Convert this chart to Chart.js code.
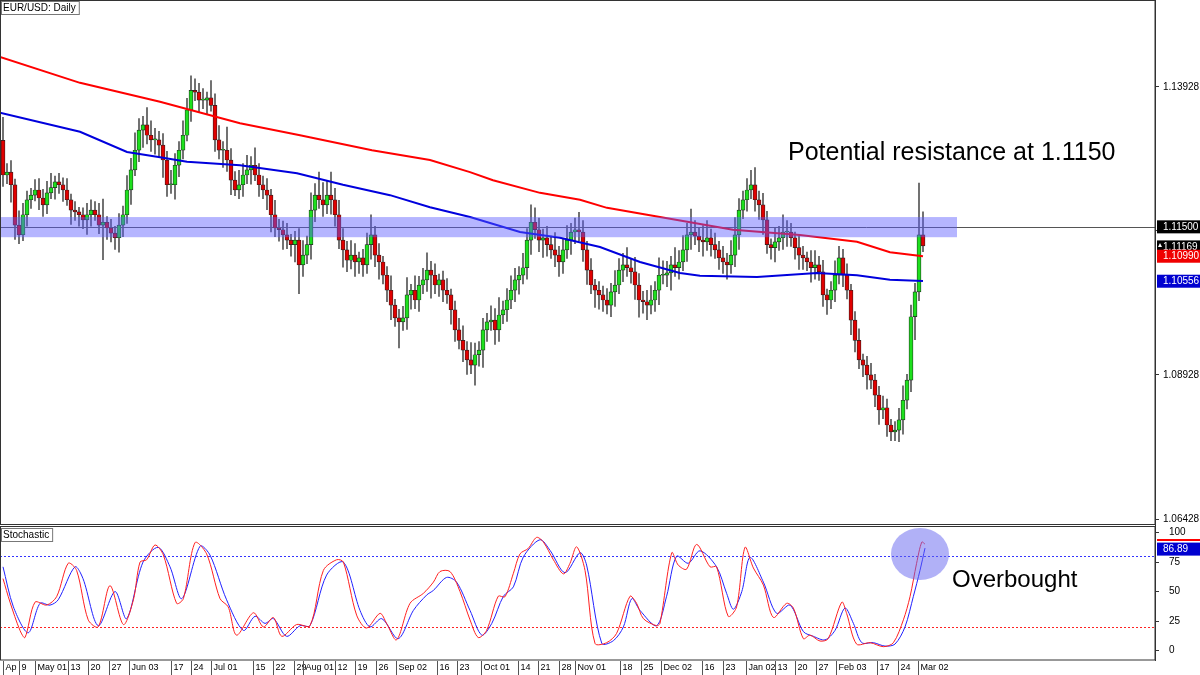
<!DOCTYPE html>
<html><head><meta charset="utf-8">
<script src="https://cdn.jsdelivr.net/npm/chart.js@4"></script>
<style>
body{margin:0;background:#fff;width:1200px;height:675px;overflow:hidden;position:relative;font-family:"Liberation Sans",Arial,sans-serif}
#c1{position:absolute;left:0;top:0}
#c2{position:absolute;left:0;top:525px}
</style></head><body>
<canvas id="c1" width="1200" height="525"></canvas>
<canvas id="c2" width="1200" height="150"></canvas>
<script>
const firstOpen = 1.1300;
const closes = [
1.1240,1.1245,1.1223,1.1153,1.1136,1.1171,1.1197,1.1205,1.1214,1.1200,
1.1188,1.1209,1.1218,1.1228,1.1223,1.1214,1.1197,1.1179,1.1176,1.1171,
1.1162,1.1171,1.1179,1.1171,1.1153,1.1158,1.1148,1.1139,1.1131,1.1153,
1.1171,1.1214,1.1249,1.1283,1.1318,1.1327,1.1309,1.1301,1.1301,1.1292,
1.1266,1.1223,1.1223,1.1257,1.1283,1.1309,1.1353,1.1387,1.1384,1.1370,
1.1370,1.1374,1.1361,1.1301,1.1283,1.1283,1.1266,1.1231,1.1214,1.1223,
1.1240,1.1249,1.1257,1.1240,1.1223,1.1214,1.1205,1.1171,1.1148,1.1145,
1.1136,1.1127,1.1119,1.1127,1.1084,1.1101,1.1119,1.1179,1.1205,1.1197,
1.1188,1.1205,1.1197,1.1171,1.1127,1.1110,1.1092,1.1101,1.1089,1.1096,
1.1084,1.1119,1.1136,1.1101,1.1089,1.1066,1.1040,1.1014,1.0992,1.0985,
1.0992,1.1032,1.1040,1.1023,1.1049,1.1058,1.1075,1.1066,1.1049,1.1058,
1.1040,1.1032,1.1006,1.0971,1.0953,1.0936,1.0919,1.0910,1.0928,1.0936,
1.0971,1.0985,1.0988,1.0971,1.0997,1.1006,1.1023,1.1040,1.1058,1.1066,
1.1079,1.1127,1.1158,1.1145,1.1127,1.1131,1.1119,1.1110,1.1101,1.1089,
1.1110,1.1127,1.1141,1.1145,1.1141,1.1110,1.1075,1.1049,1.1040,1.1032,
1.1023,1.1014,1.1037,1.1049,1.1075,1.1084,1.1079,1.1072,1.1049,1.1023,
1.1020,1.1014,1.1023,1.1040,1.1066,1.1066,1.1070,1.1084,1.1079,1.1089,
1.1110,1.1136,1.1141,1.1134,1.1127,1.1124,1.1131,1.1119,1.1110,1.1096,
1.1089,1.1084,1.1101,1.1136,1.1179,1.1197,1.1214,1.1223,1.1197,1.1188,
1.1162,1.1119,1.1114,1.1124,1.1131,1.1141,1.1141,1.1131,1.1114,1.1101,
1.1096,1.1089,1.1079,1.1084,1.1072,1.1032,1.1023,1.1040,1.1066,1.1096,
1.1066,1.1040,1.0988,1.0953,1.0919,1.0910,1.0893,1.0884,1.0858,1.0832,
1.0836,1.0806,1.0794,1.0797,1.0815,1.0849,1.0884,1.0994,1.1037,1.1136,
1.1117];
const wickUpPips = [
40,15,20,10,25,20,15,12,18,20, 15,20,25,10,15,12,20,10,15,8, 12,20,18,15,20,40,10,15,12,20,
15,25,20,30,20,15,30,25,20,15, 20,15,25,20,15,25,20,25,20,15, 20,10,30,20,25,15,40,20,15,25,
20,25,15,30,20,15,20,10,25,15, 15,20,10,15,20,25,15,30,20,40, 30,25,40,20,25,20,15,25,20,10,
15,20,35,15,20,10,15,25,10,15, 20,30,10,25,15,20,30,15,20,10, 15,20,10,15,20,25,15,30,20,15,
20,15,25,20,30,15,20,25,20,15, 25,20,30,25,20,15,20,15,30,15, 20,25,15,20,30,20,15,20,10,15,
15,20,15,25,20,20,30,15,25,20, 15,20,25,15,30,25,20,15,30,20, 25,20,40,20,15,25,30,15,20,15,
20,15,25,30,20,15,20,25,30,15, 20,15,10,25,20,30,20,15,10,20, 15,10,20,25,15,20,10,15,25,20,
15,20,10,15,20,10,15,20,10,15, 20,15,10,15,20,25,10,20,15,90, 40];
const wickDownPips = [
20,15,30,25,15,10,20,15,10,20, 20,15,10,20,15,20,10,25,15,20, 15,25,20,10,15,60,20,15,20,25,
20,15,25,10,20,30,15,20,25,20, 30,20,15,25,20,15,10,20,15,20, 15,25,10,20,15,30,20,25,10,15,
20,15,25,10,20,15,25,30,15,20, 25,15,20,30,50,20,15,25,20,15, 20,15,25,20,15,30,20,15,25,20,
20,15,25,20,30,15,20,25,15,45, 15,20,25,15,20,15,20,40,15,20, 20,15,25,20,15,20,25,15,35,20,
30,20,15,25,20,15,20,15,20,25, 15,20,25,15,20,30,20,15,20,25, 20,15,25,20,15,20,25,15,30,25,
20,15,20,25,15,20,15,20,25,30, 20,25,15,20,25,15,20,30,15,20, 15,20,25,15,20,25,15,20,15,20,
20,25,15,20,25,15,20,15,20,25, 25,15,20,25,15,20,25,15,20,25, 20,15,25,20,15,20,25,15,20,15,
20,15,25,20,15,20,25,15,20,25, 15,20,15,15,20,25,15,20,40,15, 10];
const ma200Idx = [-0.75,19.25,39.25,59.25,74.25,92.25,106.75,116.75,122.5,134.25,144.25,151,161,172.5,182.5,199.25,213.5,221.75,230];
const ma200Val = [1.1445,1.1400,1.1367,1.1330,1.1309,1.1283,1.1266,1.1245,1.1231,1.1209,1.1197,1.1183,1.1171,1.1157,1.1145,1.1136,1.1124,1.1106,1.1099];
const ma100Idx = [-0.75,19.25,31,39.25,46,59.25,73.5,85,96.75,106.75,116.75,129.25,139.25,149.25,159.25,169.25,174.25,188.5,203.5,213.5,221.75,230];
const ma100Val = [1.1348,1.1315,1.1280,1.1271,1.1263,1.1257,1.1243,1.1223,1.1205,1.1184,1.1167,1.1141,1.1131,1.1115,1.1089,1.1070,1.1065,1.1063,1.1070,1.1066,1.1058,1.1056];
const stochKIdx = [0,1.75,4.25,5.5,8,10.9,13.4,16.3,18.4,21.3,23.8,26.75,30.1,32.6,34.25,35.9,38,40.1,43.4,45.1,48,50.9,54.25,56.3,58.4,62.6,65.1,67.6,69.7,73.4,76.75,80.1,83.4,85.1,88.4,90.9,94.25,95.9,98.4,101.75,105.1,107.6,109.25,111.75,114.25,116.75,118.8,120.9,123.8,125.5,127.6,129.25,131.3,133.4,135.1,137.6,140.1,141.75,143.4,145.5,148,150.9,153.4,156.75,158.4,160.1,163.4,164.25,167.2,168.8,170.9,173.4,176.75,178.4,181.3,183.4,185.5,187.6,190.1,192.6,195.9,197.6,200.1,201.75,204.25,206.3,209.7,210.9,213.4,216.75,220.1,222.6,225.1,226.75,228.4,229.7,230.5];
const stochK = [61,41,17,11,41,38.5,45.6,74,68,26,20,55,22,43,75,77,89.5,81,40,44,91.5,82,44,37,13,32,20,28,12,22,21,68,77,75,30,19,31.5,23,9,40,48.5,58,67,67,50,26,11,17,46,45.6,65.5,82,86.6,96,92,77,65,74,88,68,6,6.6,14.5,46,40,27,21,23,83,72.5,69,90,71,71,29,37,87.5,70,55.5,28,40,36,10,13,8,10,41,31.5,5.4,6.6,3.2,6.6,26,45.6,74,92,90.3];
const stochDIdx = [0,2.6,6.3,9.25,11.75,13.8,18,20,23.8,28,30.9,35,38.8,41.75,44.7,49.25,51.75,55.9,60.1,63,65.5,67.6,70.9,74.25,76.75,80.9,85.1,89.25,91.75,94.7,98.8,102.6,105.9,107.6,110.9,113.4,116.75,119.7,122.2,125.1,127.6,130.1,134.25,136.75,140.5,144.25,145.9,149.7,152.6,155.1,157.2,159.25,163.4,165.9,168.4,171.3,174.25,178.4,180.9,182.6,184.7,186.75,190.1,193.4,196.75,200.1,202.6,205.5,208,210.5,212.6,214.7,217.6,220.5,223,225.5,227.6,229.25,230.5];
const stochD = [71,37,15,40,38.5,43,71,61,21,50,27,75,87.5,71,44,88.5,81,43,17,29,23,27,12,21,21,64,75,34,20,27,10,34,47,51,62,58,34,13,23,46,54,79.5,94,85,66,83,72.5,6,8.3,20,44,34,21,46,80,74,84.6,71,48.5,35,50,79,58,31.5,38.5,16,12,9,17,36,23,6.6,6.6,3.7,5.4,20,46,68,86.89];
const xTickIdx = [0,4,8,16.25,21.25,26.5,31.5,42,47,52,62.5,67.5,72.75,75,83,88,93.25,98.25,108.5,113.5,119.5,128.75,133.75,139,143,154.25,159.5,164.5,174.75,180,185.75,193,198,203.25,208.25,218.5,223.75,228.75];
const xTickLabels = ["Ap","9","May 01","13","20","27","Jun 03","17","24","Jul 01","15","22","29","Aug 01","12","19","26","Sep 02","16","23","Oct 01","14","21","28","Nov 01","18","25","Dec 02","16","23","Jan 02","13","20","27","Feb 03","17","24","Mar 02"];
const priceTicks = [1.06428,1.08928,1.11428,1.13928];
const stochTicks = [0,25,50,75,100];

const opens = closes.map((c,i)=> i===0 ? firstOpen : closes[i-1]);
const bodies = closes.map((c,i)=>({x:i,y:[opens[i],c]}));
const wicks = closes.map((c,i)=>({x:i,y:[Math.min(opens[i],c)-wickDownPips[i]*0.0001, Math.max(opens[i],c)+wickUpPips[i]*0.0001]}));
const bodyColors = closes.map((c,i)=> c>=opens[i] ? '#1ee01e' : '#e00000');
const FONT = '"Liberation Sans", Arial, sans-serif';

function tag(ctx,y,text,bg,fg){
  ctx.fillStyle=bg; ctx.fillRect(1157,y-6.5,43,13);
  ctx.fillStyle=fg; ctx.font='10px '+FONT; ctx.textAlign='left'; ctx.textBaseline='middle';
  ctx.fillText(text,1163,y+0.5);
}
function yLabels(ch,vals,fmt,xoff){
  const ctx=ch.ctx,y=ch.scales.y;
  ctx.save(); ctx.fillStyle='#000'; ctx.font='10px '+FONT; ctx.textAlign='left'; ctx.textBaseline='middle';
  vals.forEach(v=>ctx.fillText(fmt(v),1163+xoff,y.getPixelForValue(v)));
  ctx.restore();
}

const mainPlugin = {
  id:'mainDeco',
  beforeDatasetsDraw(ch){
    const ctx=ch.ctx, y=ch.scales.y;
    const ly=Math.round(y.getPixelForValue(1.1150))+0.5;
    ctx.save(); ctx.strokeStyle='#555'; ctx.lineWidth=1;
    ctx.beginPath(); ctx.moveTo(0,ly); ctx.lineTo(1155,ly); ctx.stroke(); ctx.restore();
  },
  afterDatasetsDraw(ch){
    const ctx=ch.ctx, y=ch.scales.y;
    const t=y.getPixelForValue(1.1167), b=y.getPixelForValue(1.1132);
    ctx.save();
    ctx.fillStyle='rgba(90,90,255,0.45)'; ctx.fillRect(0,t,957,b-t);
    ctx.fillStyle='#000'; ctx.font='25px '+FONT; ctx.textBaseline='alphabetic'; ctx.textAlign='left';
    ctx.fillText('Potential resistance at 1.1150',788,160);
    ctx.strokeStyle='#333'; ctx.lineWidth=1;
    ctx.strokeRect(0.5,0.5,1154.5,524);
    ctx.font='10px '+FONT; ctx.textBaseline='middle';
    const tw=ctx.measureText('EUR/USD: Daily').width;
    ctx.fillStyle='#fff'; ctx.fillRect(1,1,tw+6,14);
    ctx.strokeStyle='#777'; ctx.strokeRect(1.5,1.5,tw+5,13);
    ctx.fillStyle='#000'; ctx.fillText('EUR/USD: Daily',3,8.5);
    ctx.restore();
    yLabels(ch,priceTicks.filter(v=>v!==1.11428),v=>v.toFixed(5),0);
    ctx.save();
    tag(ctx,y.getPixelForValue(1.1150),'1.11500','#000','#fff');
    tag(ctx,y.getPixelForValue(1.11169)+1,'1.11169','#000','#fff');
    ctx.fillStyle='#fff'; ctx.beginPath(); ctx.moveTo(1158,247); ctx.lineTo(1160,243); ctx.lineTo(1162,247); ctx.fill();
    tag(ctx,y.getPixelForValue(1.1099),'1.10990','#f00000','#fff');
    tag(ctx,y.getPixelForValue(1.10556),'1.10556','#0000d0','#fff');
    ctx.restore();
  }
};

new Chart(document.getElementById('c1'),{
  type:'bar',
  data:{datasets:[
    {type:'line',data:ma200Idx.map((x,i)=>({x,y:ma200Val[i]})),borderColor:'#ff0000',borderWidth:2,pointRadius:0,order:1},
    {type:'line',data:ma100Idx.map((x,i)=>({x,y:ma100Val[i]})),borderColor:'#0000dd',borderWidth:2,pointRadius:0,order:1},
    {data:bodies,backgroundColor:bodyColors,borderColor:'#222',borderWidth:0.7,borderSkipped:false,barThickness:4,grouped:false,order:2,minBarLength:1},
    {data:wicks,backgroundColor:'#555',barThickness:1,grouped:false,order:3}
  ]},
  options:{
    responsive:false,animation:false,devicePixelRatio:1,
    layout:{padding:0},
    plugins:{legend:{display:false},tooltip:{enabled:false}},
    scales:{
      x:{type:'linear',offset:false,min:-0.75,max:288,display:false},
      y:{position:'right',min:1.06324,max:1.15438,
        afterFit(s){s.width=45;},
        afterBuildTicks(s){s.ticks=priceTicks.map(v=>({value:v}));},
        grid:{drawOnChartArea:false,tickLength:4,color:'#333'},
        border:{color:'#333'},
        ticks:{display:false}
      }
    }
  },
  plugins:[mainPlugin]
});

const stochPlugin = {
  id:'stochDeco',
  beforeDatasetsDraw(ch){
    const ctx=ch.ctx,y=ch.scales.y;
    ctx.save(); ctx.setLineDash([2,2]); ctx.lineWidth=1;
    let p=Math.round(y.getPixelForValue(80))+0.5;
    ctx.strokeStyle='#3333ff'; ctx.beginPath(); ctx.moveTo(0,p); ctx.lineTo(1155,p); ctx.stroke();
    p=Math.round(y.getPixelForValue(20))+0.5;
    ctx.strokeStyle='#ff2222'; ctx.beginPath(); ctx.moveTo(0,p); ctx.lineTo(1155,p); ctx.stroke();
    ctx.restore();
  },
  afterDatasetsDraw(ch){
    const ctx=ch.ctx,x=ch.scales.x,y=ch.scales.y;
    ctx.save();
    ctx.fillStyle='rgba(100,100,240,0.5)';
    ctx.beginPath(); ctx.ellipse(920,29,29,26,0,0,Math.PI*2); ctx.fill();
    ctx.fillStyle='#000'; ctx.font='24px '+FONT; ctx.textAlign='left'; ctx.textBaseline='middle';
    ctx.fillText('Overbought',952,55);
    ctx.strokeStyle='#333'; ctx.lineWidth=1;
    ctx.strokeRect(0.5,1.5,1154.5,133.5);
    ctx.font='10px '+FONT;
    const tw=ctx.measureText('Stochastic').width;
    ctx.fillStyle='#fff'; ctx.fillRect(1,3,tw+6,14);
    ctx.strokeStyle='#777'; ctx.strokeRect(1.5,3.5,tw+5,13);
    ctx.fillStyle='#000'; ctx.fillText('Stochastic',3,10.5);
    ctx.textBaseline='middle'; ctx.font='9px '+FONT;
    xTickIdx.forEach((v,i)=>{
      const px=Math.round(x.getPixelForValue(v))+0.5;
      ctx.strokeStyle='#555'; ctx.beginPath(); ctx.moveTo(px,136); ctx.lineTo(px,150); ctx.stroke();
      ctx.fillStyle='#000'; ctx.fillText(xTickLabels[i],px+2,143);
    });
    ctx.restore();
    yLabels(ch,stochTicks,v=>String(v),6);
    ctx.save();
    ctx.fillStyle='#f00'; ctx.fillRect(1157,14,43,2);
    tag(ctx,y.getPixelForValue(86.89)+1,'86.89','#0000d0','#fff');
    ctx.restore();
  }
};

new Chart(document.getElementById('c2'),{
  type:'line',
  data:{datasets:[
    {data:stochKIdx.map((x,i)=>({x,y:stochK[i]})),borderColor:'#ff2020',borderWidth:1,pointRadius:0,tension:0.3},
    {data:stochDIdx.map((x,i)=>({x,y:stochD[i]})),borderColor:'#2020ff',borderWidth:1,pointRadius:0,tension:0.3}
  ]},
  options:{
    responsive:false,animation:false,devicePixelRatio:1,
    layout:{padding:0},
    plugins:{legend:{display:false},tooltip:{enabled:false}},
    scales:{
      x:{type:'linear',min:-0.75,max:288,afterFit(s){s.height=15;},ticks:{display:false},grid:{display:false},border:{display:false}},
      y:{position:'right',min:-8.1,max:106.5,
        afterFit(s){s.width=45;},
        afterBuildTicks(s){s.ticks=stochTicks.map(v=>({value:v}));},
        grid:{drawOnChartArea:false,tickLength:4,color:'#333'},
        border:{color:'#333'},
        ticks:{display:false}
      }
    }
  },
  plugins:[stochPlugin]
});
</script>
</body></html>
